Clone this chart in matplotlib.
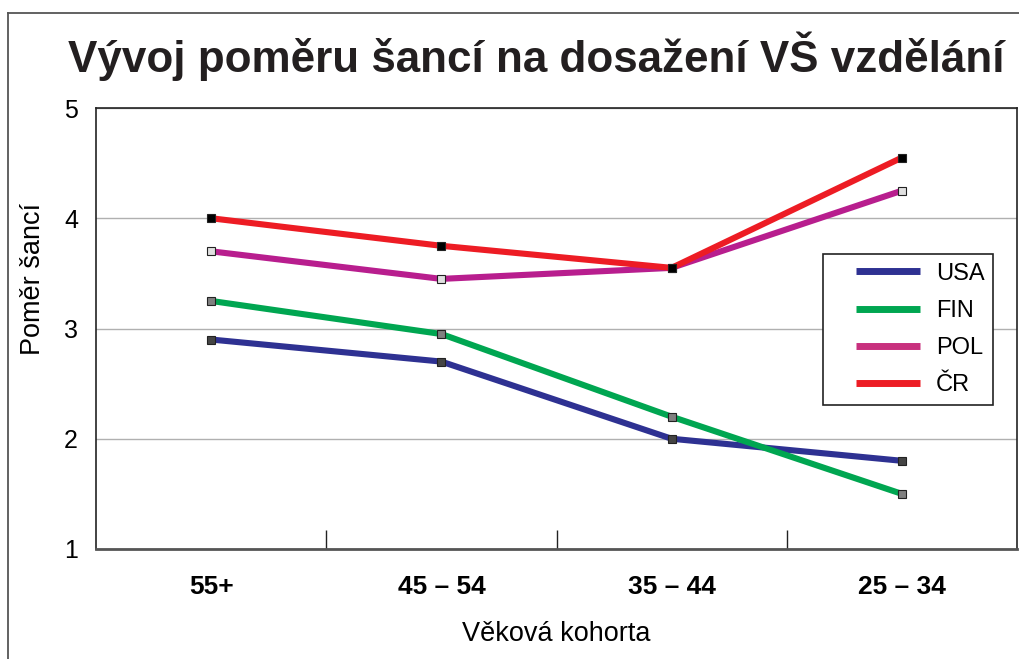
import matplotlib
matplotlib.use("Agg")
import matplotlib.pyplot as plt
from matplotlib.lines import Line2D
from matplotlib.legend_handler import HandlerBase

plt.rcParams['font.family'] = ['Liberation Sans', 'DejaVu Sans']

categories = ["55+", "45 – 54", "35 – 44", "25 – 34"]
usa = [2.9, 2.7, 2.0, 1.8]
fin = [3.25, 2.95, 2.2, 1.5]
pol = [3.7, 3.45, 3.55, 4.25]
cr = [4.0, 3.75, 3.55, 4.55]
series_names = ["USA", "FIN", "POL", "ČR"]
y_ticks = [1, 2, 3, 4, 5]

W, H = 1019, 659
fig = plt.figure(figsize=(W / 100, H / 100), dpi=100)

# outer frame
fig.add_artist(Line2D([8 / W, 8 / W], [0, 1 - 13 / H], transform=fig.transFigure,
                      color='#555555', lw=1.3))
fig.add_artist(Line2D([8 / W, 1], [1 - 13 / H, 1 - 13 / H], transform=fig.transFigure,
                      color='#555555', lw=1.3))

ax = fig.add_axes([96 / W, 1 - 549 / H, (1017 - 96) / W, (549 - 108) / H])

x = list(range(len(categories)))
colors = ['#2E3192', '#00A651', '#B81E8E', '#ED1C24']
leg_colors = ['#2E3192', '#00A651', '#C8307E', '#ED1C24']
mfaces = ['#444444', '#808080', '#E0E0E0', '#000000']
data = [usa, fin, pol, cr]
for vals, name, c, mf in zip(data, series_names, colors, mfaces):
    ax.plot(x, vals, color=c, lw=4.4, solid_capstyle='butt', label=name,
            marker='s', markersize=5.5, markerfacecolor=mf,
            markeredgecolor='#222222', markeredgewidth=0.8, zorder=3)

ax.set_xlim(-0.5, 3.5)
ax.set_ylim(1, 5)
ax.set_yticks(y_ticks)
ax.set_yticklabels([str(t) for t in y_ticks], fontsize=18)
ax.tick_params(axis='y', length=0, pad=13)
ax.set_xticks(x)
ax.set_xticklabels(categories, fontsize=19, fontweight='bold')
ax.tick_params(axis='x', which='major', length=0, pad=19)
ax.set_xticks([0.5, 1.5, 2.5], minor=True)
ax.tick_params(axis='x', which='minor', direction='in', length=14, width=1, color='#222222')
ax.grid(axis='y', color='#B0B0B0', lw=1)
ax.set_axisbelow(True)

for s in ['left', 'top', 'right']:
    ax.spines[s].set_color('#222222')
    ax.spines[s].set_linewidth(1.2)
ax.spines['bottom'].set_color('#555555')
ax.spines['bottom'].set_linewidth(2)

ax.set_ylabel("Poměr šancí", fontsize=19.5)
ax.yaxis.label.set_verticalalignment('center')
ax.yaxis.set_label_coords((33 - 96) / 921, (549 - 278.5) / 441)
ax.set_xlabel("Věková kohorta", fontsize=19.5)
ax.xaxis.set_label_coords(0.5, (549 - 621) / 441)

fig.text(68 / W, 1 - 72 / H, "Vývoj poměru šancí na dosažení VŠ vzdělání",
         fontsize=31.7, fontweight='bold', color='#231F20', va='baseline', ha='left')


class OffsetLineHandler(HandlerBase):
    def __init__(self, frac=0.275, lw=5):
        super().__init__()
        self.frac = frac
        self.lw = lw

    def create_artists(self, legend, orig_handle, xdescent, ydescent, width, height,
                       fontsize, trans):
        y = height / 2 - ydescent
        x0 = -xdescent + self.frac * width
        x1 = -xdescent + width
        ln = Line2D([x0, x1], [y, y], color=orig_handle.get_color(), lw=self.lw,
                    solid_capstyle='butt', transform=trans)
        return [ln]


leg_handles = [Line2D([0], [0], color=c, lw=5) for c in leg_colors]
leg = ax.legend(leg_handles, series_names, loc='upper left',
                bbox_to_anchor=((823 - 96) / (1017 - 96), 1 - (254 - 108) / (549 - 108)),
                fontsize=17, frameon=True, fancybox=False, edgecolor='#222222',
                handlelength=3.74, handletextpad=0.68, labelspacing=0.64,
                borderpad=0.37, borderaxespad=0,
                handler_map={Line2D: OffsetLineHandler()})
leg.get_frame().set_linewidth(1.2)
leg.get_frame().set_alpha(1)

fig.savefig("out.png", dpi=100)
